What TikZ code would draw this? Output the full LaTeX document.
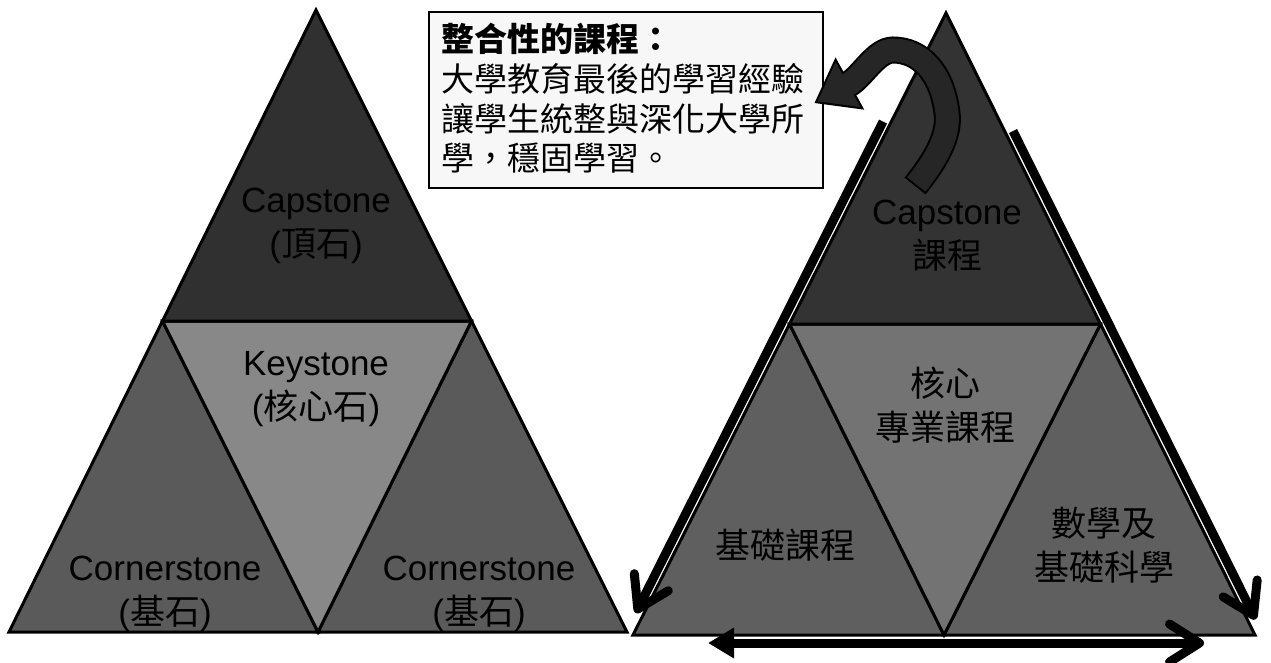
\documentclass[tikz,border=0pt]{standalone}
\usepackage{fontspec}
\setmainfont{Liberation Sans}
\newfontfamily\cjk{Noto Sans CJK TC}
\usetikzlibrary{arrows.meta,calc}
\definecolor{lcap}{HTML}{303030}
\definecolor{lkey}{HTML}{888888}
\definecolor{lcorner}{HTML}{5A5A5A}
\definecolor{rcap}{HTML}{333333}
\definecolor{rkey}{HTML}{737373}
\definecolor{rcorner}{HTML}{5F5F5F}
\definecolor{arrowc}{HTML}{262626}
\definecolor{boxfill}{HTML}{F7F7F7}
\tikzset{
  tri/.style={draw=black, line width=3pt, line join=miter},
  lbl/.style={font=\fontsize{35}{44}\selectfont, align=center, inner sep=0pt, text=black},
  boxline/.style={font=\fontsize{33}{40}\cjk, inner sep=0pt, anchor=base west, text=black},
  sidearrow/.style={line width=9pt, draw=black, -{Straight Barb[round,length=30pt,width=38pt]}},
}
\begin{document}
\begin{tikzpicture}[x=1pt,y=-1pt]
\useasboundingbox (0,0) rectangle (1271,662);
% ---------- left triangle
\coordinate (LA) at (316,10);
\coordinate (LL) at (9,632);
\coordinate (LR) at (627,632);
\coordinate (LM1) at (162.5,321);
\coordinate (LM2) at (471.5,321);
\coordinate (LM3) at (318,632);
\filldraw[tri, fill=lcorner] (LM1) -- (LL) -- (LM3) -- cycle;
\filldraw[tri, fill=lcorner] (LM2) -- (LM3) -- (LR) -- cycle;
\filldraw[tri, fill=lkey] (LM1) -- (LM2) -- (LM3) -- cycle;
\filldraw[tri, fill=lcap] (LA) -- (LM1) -- (LM2) -- cycle;
\node[lbl] (lcapt) at (316,226) {Capstone\\({\cjk 頂石})};
\node[lbl] (lkeyt) at (316,389) {Keystone\\({\cjk 核心石})};
\node[lbl] (lc1t) at (165,594) {Cornerstone\\({\cjk 基石})};
\node[lbl] (lc2t) at (479,594) {Cornerstone\\({\cjk 基石})};
% ---------- right triangle
\coordinate (RA) at (946,13);
\coordinate (RL) at (633,635);
\coordinate (RR) at (1255,635);
\coordinate (RM1) at (789.5,324);
\coordinate (RM2) at (1100.5,324);
\coordinate (RM3) at (944,635);
\filldraw[tri, fill=rcorner] (RM1) -- (RL) -- (RM3) -- cycle;
\filldraw[tri, fill=rcorner] (RM2) -- (RM3) -- (RR) -- cycle;
\filldraw[tri, fill=rkey] (RM1) -- (RM2) -- (RM3) -- cycle;
\filldraw[tri, fill=rcap] (RA) -- (RM1) -- (RM2) -- cycle;
\node[lbl] (rcapt) at (947,236) {Capstone\\{\cjk 課程}};
\node[lbl] (rkeyt) at (945,405) {\cjk 核心\\\cjk 專業課程};
\node[lbl] (rc1t) at (785,545) {\cjk 基礎課程};
\node[lbl] (rc2t) at (1104,545) {\cjk 數學及\\\cjk 基礎科學};
% ---------- straight arrows
\coordinate (la1) at (883.0,121.6);
\coordinate (la2) at (635.8,613.0);
\coordinate (ra1) at (1013.0,131.0);
\coordinate (ra2) at (1255.5,619.3);
\coordinate (ba1) at (708,643);
\coordinate (ba2) at (1204,643);
\draw[sidearrow] (la1) -- (la2);
\draw[sidearrow] (ra1) -- (ra2);
\draw[line width=9pt, {Triangle[length=26pt,width=29pt]}-{Straight Barb[round,length=30pt,width=38pt]}] (ba1) -- (ba2);
% ---------- callout box
\node[draw=black, line width=1.5pt, fill=boxfill, minimum width=394pt, minimum height=176pt, anchor=north west, inner sep=0pt] (box) at (428,11) {};
\node[boxline, font=\fontsize{33}{40}\cjk\bfseries] (bt1) at (441,51) {整合性的課程：};
\node[boxline] (bt2) at (441,91) {大學教育最後的學習經驗};
\node[boxline] (bt3) at (441,131) {讓學生統整與深化大學所};
\node[boxline] (bt4) at (441,170) {學，穩固學習。};
% ---------- curved arrow
\coordinate (ct) at (915,186);
\coordinate (cb) at (849,84);
\coordinate (ce) at (845.5,85.9);
\coordinate (ctip) at (816,102.2);
\coordinate (cc1) at (862.4,108.4);
\coordinate (cc2) at (835.6,59.6);
\draw[line width=27pt, black] (ct) .. controls (936,160) and (950,135) .. (947,113) .. controls (942,72) and (920,50) .. (893,50) .. controls (876,50) and (862,76.8) .. (cb);
\filldraw[fill=arrowc, draw=black, line width=2pt, line join=miter] (cc1) -- (ctip) -- (cc2) -- cycle;
\draw[line width=23pt, arrowc, shorten <=2pt] (ct) .. controls (936,160) and (950,135) .. (947,113) .. controls (942,72) and (920,50) .. (893,50) .. controls (876,50) and (862,76.8) .. (cb) -- (ce);
\end{tikzpicture}
\end{document}
